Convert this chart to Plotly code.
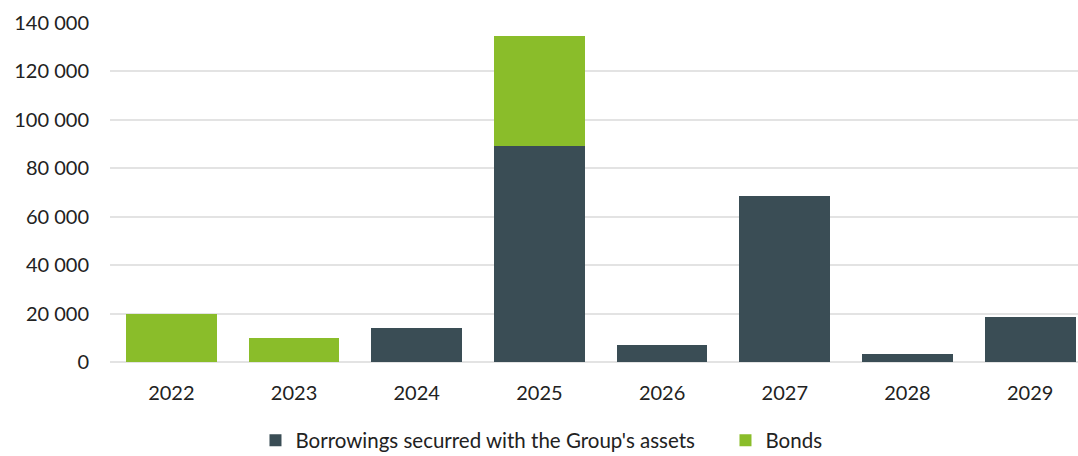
import plotly.graph_objects as go

years = ["2022", "2023", "2024", "2025", "2026", "2027", "2028", "2029"]
borrowings = [0, 0, 14100, 89200, 6900, 68700, 3100, 18500]
bonds = [20000, 10000, 0, 45600, 0, 0, 0, 0]
tick_vals = [0, 20000, 40000, 60000, 80000, 100000, 120000, 140000]
tick_text = ["0", "20 000", "40 000", "60 000", "80 000", "100 000", "120 000", "140 000"]

DARK = "#3a4d55"
GREEN = "#8abd2a"
FONT = "Lato"
SIZE = 20

fig = go.Figure()
fig.add_trace(go.Bar(
    x=years, y=borrowings, name="Borrowings securred with the Group's assets",
    marker=dict(color=DARK, line=dict(width=0)),
))
fig.add_trace(go.Bar(
    x=years, y=bonds, name="Bonds",
    marker=dict(color=GREEN, line=dict(width=0)),
))

fig.update_layout(
    barmode="stack",
    bargap=0.26,
    width=1078, height=456,
    margin=dict(l=110, r=0, t=23, b=94, autoexpand=False),
    paper_bgcolor="white", plot_bgcolor="white",
    font=dict(family=FONT, size=SIZE, color="#222222"),
    showlegend=True,
    legend=dict(
        orientation="h", xref="container", yref="paper",
        x=0.237, xanchor="left", y=-0.172, yanchor="top",
        font=dict(family=FONT, size=20.5, color="#222222"),
        traceorder="normal", itemwidth=30,
        entrywidth=425, entrywidthmode="pixels",
    ),
    xaxis=dict(
        type="category", range=[-0.5, 7.39], showgrid=False, showline=False,
        ticks="", ticklabelstandoff=17, tickfont=dict(size=SIZE),
    ),
    yaxis=dict(
        range=[0, 140000], tickvals=tick_vals, ticktext=tick_text,
        showgrid=True, gridcolor="#e3e3e3", gridwidth=1.5,
        zeroline=True, zerolinecolor="#e3e3e3", zerolinewidth=1.5,
        showline=False, ticks="", ticklabelstandoff=20, tickfont=dict(size=SIZE),
    ),
)

fig.write_html("out.html")
